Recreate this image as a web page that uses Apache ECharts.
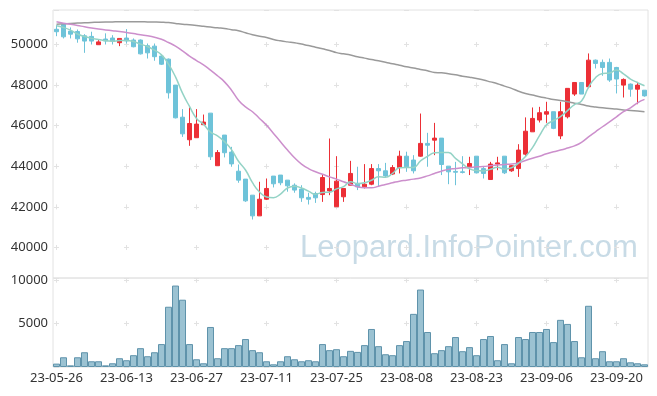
<!DOCTYPE html>
<html><head><meta charset="utf-8">
<script src="https://cdn.jsdelivr.net/npm/echarts/dist/echarts.min.js"></script>
<style>html,body{margin:0;padding:0;background:#fff}#c{width:657px;height:396px}</style>
</head><body><div id="c"></div>
<script>
const dates = ['23-05-26','23-05-30','23-05-31','23-06-01','23-06-02','23-06-05','23-06-07','23-06-08','23-06-09','23-06-12',
'23-06-13','23-06-14','23-06-15','23-06-16','23-06-19','23-06-20','23-06-21','23-06-22','23-06-23','23-06-26',
'23-06-27','23-06-28','23-06-29','23-06-30','23-07-03','23-07-04','23-07-05','23-07-06','23-07-07','23-07-10',
'23-07-11','23-07-12','23-07-13','23-07-14','23-07-17','23-07-18','23-07-19','23-07-20','23-07-21','23-07-24',
'23-07-25','23-07-26','23-07-27','23-07-28','23-07-31','23-08-01','23-08-02','23-08-03','23-08-04','23-08-07',
'23-08-08','23-08-09','23-08-10','23-08-11','23-08-14','23-08-16','23-08-17','23-08-18','23-08-21','23-08-22',
'23-08-23','23-08-24','23-08-25','23-08-28','23-08-29','23-08-30','23-08-31','23-09-01','23-09-04','23-09-05',
'23-09-06','23-09-07','23-09-08','23-09-11','23-09-12','23-09-13','23-09-14','23-09-15','23-09-18','23-09-19',
'23-09-20','23-09-21','23-09-22','23-09-25','23-09-26'];

const opens = [50750,50990,50660,50640,50430,50400,49990,50270,50320,50090,
50320,50220,50220,49940,49920,49430,49280,48000,46420,45310,
45410,46050,46620,44030,45540,44700,43760,43370,42580,41560,
42380,43520,43570,43320,43070,42880,42470,42660,42610,42790,
42010,42500,43070,43160,42990,43120,43890,43780,43620,43940,
44500,44310,44500,45130,45290,45390,44010,43750,43730,43980,
44500,43890,43350,44110,44500,43780,43890,44600,45700,46280,
46570,46690,45500,46440,47560,48130,47920,49230,49120,49120,
48870,48000,48050,47800,47750];
const closes = [50630,50380,50510,50280,50170,50170,50130,50180,50180,50300,
50180,49890,49540,49590,49400,49030,47620,46390,45600,46110,
46080,46180,44470,44680,44670,44120,43320,42300,41560,42380,
42910,43140,43190,43040,42830,42450,42380,42450,43450,42910,
43270,42910,43650,42990,43120,43890,43780,43530,43940,44500,
43980,43780,45130,45040,45390,44090,43730,43710,43700,44140,
43680,43650,44110,44170,43680,44030,44800,45730,46360,46640,
46690,45870,46690,47840,48130,47560,49230,49070,48870,48250,
48300,48280,47800,48000,47470];
const lows = [50410,50300,50300,50090,49590,50000,49990,50000,50000,49920,
50050,49860,49510,49310,49200,48990,47340,46360,45450,45010,
45410,46050,44310,44030,44440,43980,43190,42250,41380,41560,
42340,42960,43070,42750,42700,42250,42120,42200,42250,42580,
42010,42250,43070,42830,42910,43070,43020,43450,43570,43650,
43730,43650,44470,43980,44550,43570,43120,43070,43650,43570,
43650,43400,43350,43810,43620,43730,43480,44520,45700,46160,
46140,45830,45340,46360,47470,47560,47880,48820,48460,48160,
47590,47390,47430,47060,47430];
const highs = [50950,51040,50840,50740,50510,50630,50270,50550,50460,50300,
50760,50300,50250,50050,50050,49510,49310,48000,46820,46900,
46820,46550,46620,44800,45540,44960,44090,43370,42580,43240,
43400,43520,43570,43320,43160,43070,42700,42750,43620,45370,
44500,42910,44270,43980,44110,44110,44110,44170,44060,44770,
44720,44550,46600,45650,46140,45390,44010,44220,44500,44470,
44500,43980,44220,44470,44500,44060,45090,46410,46900,46930,
47180,46690,47180,47840,48130,48130,49560,49260,49260,49310,
48900,48330,48080,48160,47750];

const ma5 = [50920,50840,50710,50520,50394,50302,50252,50186,50166,50192,
50194,50146,50018,49900,49720,49490,49036,48406,47608,46950,
46360,46072,45688,45504,45216,44824,44252,43818,43194,42736,
42494,42458,42636,42932,43022,42930,42778,42630,42712,42728,
42892,42998,43238,43146,43188,43312,43486,43462,43652,43928,
43946,43946,44266,44486,44664,44686,44676,44392,44124,43874,
43792,43776,43856,43950,43858,43928,44158,44482,44920,45512,
46044,46258,46450,46746,47044,47218,47890,48366,48572,48596,
48744,48554,48300,48126,47970];
const ma20 = [51120,51050,51000,50940,50870,50810,50760,50720,50680,50640,
50590,50540,50480,50430,50360,50260,50100,49920,49690,49430,
49210,49000,48740,48460,48160,47750,47260,46930,46690,46360,
46030,45620,45210,44800,44420,44110,43890,43730,43610,43480,
43370,43240,43120,42990,42940,42940,43020,43110,43190,43270,
43320,43370,43430,43530,43650,43760,43850,43890,43930,43940,
43980,43990,44030,44060,44090,44120,44170,44290,44400,44500,
44620,44720,44800,44900,45010,45180,45450,45700,45950,46190,
46440,46690,46880,47130,47300];
const ma60 = [51000,51020,51040,51055,51070,51085,51100,51110,51115,51120,
51120,51120,51120,51115,51110,51100,51080,51040,51000,50970,
50940,50900,50860,50820,50790,50730,50680,50580,50480,50410,
50350,50250,50180,50130,50090,50020,49950,49870,49790,49710,
49600,49540,49480,49400,49330,49260,49200,49130,49050,48980,
48900,48840,48770,48710,48620,48610,48560,48510,48440,48390,
48330,48250,48160,48070,47950,47840,47700,47590,47510,47430,
47360,47290,47240,47180,47110,47050,46970,46920,46880,46850,
46820,46780,46750,46720,46690];

const volumes = [390,1120,190,1120,1700,660,660,190,430,1010,
780,1360,2170,1240,1700,2640,6940,9380,7750,2640,
890,430,4610,1010,2170,2170,2520,3220,1940,1700,
660,310,660,1240,890,660,780,660,2640,1940,
2050,1240,1860,1740,2520,4380,2400,1470,1360,2520,
2990,6120,8920,4030,1590,1940,2400,3450,1820,2290,
1360,3220,3570,780,2640,430,3450,3220,4030,4030,
4380,2870,5430,4960,2990,1120,7050,1010,1820,660,
660,1010,540,430,310];

const watermark = 'Leopard.InfoPointer.com';

const candles = dates.map((d, i) => [opens[i], closes[i], lows[i], highs[i]]);

const FONT = 'Noto Sans';
const GRID_LINE = '#e2e2e2';
const labelStyle = { fontFamily: FONT, fontSize: 13, color: '#333', formatter: v => String(v) };

const chart = echarts.init(document.getElementById('c'), null, { renderer: 'canvas' });
chart.setOption({
  animation: false,
  backgroundColor: '#fff',
  graphic: [{
    type: 'text', left: 300, top: 233, z: 0, silent: true,
    style: { text: watermark, font: '31px "Liberation Sans"', fill: '#c8dbe6' }
  }],
  grid: [
    { left: 53, right: 9, top: 10, height: 268, show: true, borderColor: GRID_LINE, borderWidth: 1, backgroundColor: 'transparent' },
    { left: 53, right: 9, top: 278, height: 89, show: true, borderColor: GRID_LINE, borderWidth: 1, backgroundColor: 'transparent' }
  ],
  xAxis: [
    { type: 'category', gridIndex: 0, data: dates, boundaryGap: true,
      axisLine: { show: false }, axisTick: { show: false }, axisLabel: { show: false },
      splitLine: { show: true, interval: 9, alignWithLabel: true,
        lineStyle: { color: GRID_LINE, width: 1, type: [5, 35.6], dashOffset: 8.6 } } },
    { type: 'category', gridIndex: 1, data: dates, boundaryGap: true,
      axisLine: { show: false }, axisTick: { show: false },
      axisLabel: Object.assign({ interval: 9, margin: 5 }, labelStyle),
      splitLine: { show: true, interval: 9, alignWithLabel: true,
        lineStyle: { color: GRID_LINE, width: 1, type: [5, 38.4], dashOffset: 0.3 } } }
  ],
  yAxis: [
    { type: 'value', gridIndex: 0, min: 38500, max: 51700, splitNumber: 7,
      axisLine: { show: false }, axisTick: { show: false },
      axisLabel: Object.assign({ showMinLabel: false, showMaxLabel: false, margin: 5 }, labelStyle),
      splitLine: { show: true, lineStyle: { color: GRID_LINE, width: 1, type: [5, 65], dashOffset: 69 } } },
    { type: 'value', gridIndex: 1, min: 0, max: 10250, splitNumber: 2,
      axisLine: { show: false }, axisTick: { show: false },
      axisLabel: Object.assign({ showMinLabel: false, showMaxLabel: false, margin: 5 }, labelStyle),
      splitLine: { show: true, lineStyle: { color: GRID_LINE, width: 1, type: [5, 65], dashOffset: 69 } } }
  ],
  series: [
    { type: 'candlestick', xAxisIndex: 0, yAxisIndex: 0, data: candles, barWidth: '70%', z: 3,
      itemStyle: { color: '#ec2f36', color0: '#6ec3d9', borderColor: '#ec2f36', borderColor0: '#6ec3d9', borderWidth: 1 } },
    { type: 'line', xAxisIndex: 0, yAxisIndex: 0, data: ma60, smooth: true, showSymbol: false, z: 4,
      lineStyle: { color: '#9a9a9a', width: 1.5 } },
    { type: 'line', xAxisIndex: 0, yAxisIndex: 0, data: ma20, smooth: true, showSymbol: false, z: 4,
      lineStyle: { color: '#cc8fcc', width: 1.5 } },
    { type: 'line', xAxisIndex: 0, yAxisIndex: 0, data: ma5, smooth: true, showSymbol: false, z: 4,
      lineStyle: { color: '#94d3c6', width: 1.5 } },
    { type: 'bar', xAxisIndex: 1, yAxisIndex: 1, data: volumes, barCategoryGap: '0%', z: 3,
      itemStyle: { color: '#9bc2d2', borderColor: '#5f93ab', borderWidth: 1 } }
  ]
});
</script>
</body></html>
